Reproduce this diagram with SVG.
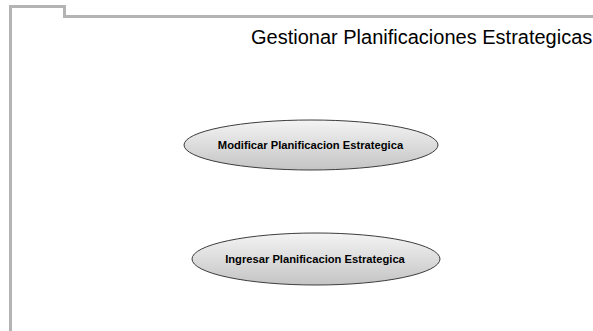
<svg xmlns="http://www.w3.org/2000/svg" width="593" height="331" viewBox="0 0 593 331">
<defs>
<linearGradient id="g" x1="0" y1="0" x2="0" y2="1">
<stop offset="0" stop-color="#f4f4f4"/>
<stop offset="1" stop-color="#c4c4c4"/>
</linearGradient>
<style>
.uc{fill:url(#g);stroke:#3c3c3c;stroke-width:1}
.lbl{font-family:"Liberation Sans",Arial,sans-serif;font-size:11.2px;font-weight:bold;fill:#000;text-anchor:middle}
.frame{fill:none;stroke:#b4b4b4;stroke-width:3}
</style>
</defs>
<rect width="593" height="331" fill="#fff"/>
<g id="frame">
<path class="frame" d="M10.5 331 V6.5 H64.5 V16.5 H593"/>
<text x="251" y="44" font-family="'Liberation Sans',Arial,sans-serif" font-size="20" fill="#000">Gestionar Planificaciones Estrategicas</text>
</g>
<g id="connectors"/>
<g id="uc1">
<ellipse class="uc" cx="311" cy="145" rx="127" ry="25"/>
<text class="lbl" x="310.5" y="149">Modificar Planificacion Estrategica</text>
</g>
<g id="uc2">
<ellipse class="uc" cx="316" cy="259" rx="124" ry="26"/>
<text class="lbl" x="315" y="263">Ingresar Planificacion Estrategica</text>
</g>
</svg>
